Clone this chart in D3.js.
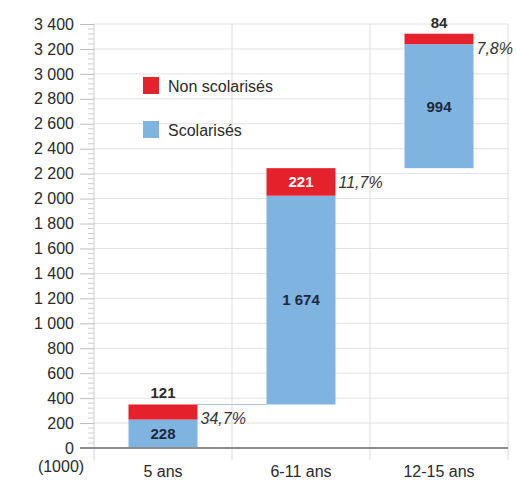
<!DOCTYPE html>
<html>
<head>
<meta charset="utf-8">
<script src="https://cdn.jsdelivr.net/npm/d3@7"></script>
<style>
  html, body { margin: 0; padding: 0; background: #fff; }
  svg { display: block; font-family: "Liberation Sans", Arial, sans-serif; }
</style>
</head>
<body>
<svg id="chart" width="516" height="482"></svg>
<script>
// Age groups and enrolment counts (thousands)
const categories = ["5 ans", "6-11 ans", "12-15 ans"];
const scolarises = [228, 1674, 994];
const nonScolarises = [121, 221, 84];
const shareLabels = ["34,7%", "11,7%", "7,8%"];
const valueLabels = {
  scol: ["228", "1 674", "994"],
  non: ["121", "221", "84"]
};
const yTicks = d3.range(0, 3401, 200);
const legendItems = ["Non scolarisés", "Scolarisés"];

const RED = "#e5222b";
const BLUE = "#7fb3e0";

const svg = d3.select("#chart");
const margin = { left: 94, right: 8, top: 24, bottom: 34 };
const W = +svg.attr("width"), H = +svg.attr("height");

const x = d3.scaleBand().domain(categories).range([margin.left, W - margin.right]).padding(0);
const y = d3.scaleLinear().domain([0, 3400]).range([H - margin.bottom, margin.top]);
const fmt = v => d3.format(",")(v).replace(/,/g, " ");

// Waterfall: each group starts where the previous one ended
let base = 0;
const rows = categories.map((c, i) => {
  const r = {
    cat: c,
    start: base,
    mid: base + scolarises[i],
    end: base + scolarises[i] + nonScolarises[i]
  };
  base = r.end;
  return r;
});

// Horizontal grid
svg.append("g")
  .selectAll("line").data(yTicks.filter(t => t > 0)).join("line")
  .attr("x1", margin.left).attr("x2", W - margin.right)
  .attr("y1", d => y(d)).attr("y2", d => y(d))
  .attr("stroke", "#e2e2e2").attr("stroke-width", 1);

// Vertical grid at category boundaries (extends below axis as ticks)
const bounds = categories.map(c => x(c) + x.bandwidth());
svg.append("g")
  .selectAll("line").data(bounds).join("line")
  .attr("x1", d => d).attr("x2", d => d)
  .attr("y1", y(3400)).attr("y2", y(0) + 12)
  .attr("stroke", "#dcdcdc").attr("stroke-width", 1);

// Left axis with major and minor ticks
const yAxis = d3.axisLeft(y).tickValues(yTicks).tickFormat(fmt).tickSize(14).tickPadding(6);
const gy = svg.append("g").attr("transform", `translate(${margin.left},0)`).call(yAxis);
gy.select(".domain").attr("stroke", "#cfcfcf").attr("d", `M0,${y(3400)}V${y(0) + 12}`);
gy.selectAll(".tick line").attr("stroke", "#bdbdbd");
gy.selectAll(".tick text")
  .attr("fill", "#2a2a2a").attr("font-size", 16)
  .attr("font-family", "Liberation Sans, Arial, sans-serif");

const minor = d3.range(0, 3401, 40).filter(v => v % 200 !== 0);
svg.append("g").selectAll("line").data(minor).join("line")
  .attr("x1", margin.left - 6).attr("x2", margin.left)
  .attr("y1", d => y(d)).attr("y2", d => y(d))
  .attr("stroke", "#cfcfcf");

// Connector from the first group's top to the start of the second
svg.append("g").selectAll("line").data(rows.slice(0, 1)).join("line")
  .attr("x1", (d) => x(d.cat) + x.bandwidth() * 0.75)
  .attr("x2", (d, i) => x(categories[i + 1]) + x.bandwidth() * 0.25)
  .attr("y1", d => y(d.end)).attr("y2", d => y(d.end))
  .attr("stroke", "#a9c6e3").attr("stroke-width", 1);

// Bars
const bw = x.bandwidth() * 0.5;
const bx = d => x(d.cat) + (x.bandwidth() - bw) / 2;
const bars = svg.append("g");
bars.selectAll("rect.scol").data(rows).join("rect")
  .attr("class", "scol")
  .attr("x", bx).attr("width", bw)
  .attr("y", d => y(d.mid)).attr("height", d => y(d.start) - y(d.mid))
  .attr("fill", BLUE);
bars.selectAll("rect.non").data(rows).join("rect")
  .attr("class", "non")
  .attr("x", bx).attr("width", bw)
  .attr("y", d => y(d.end)).attr("height", d => y(d.mid) - y(d.end))
  .attr("fill", RED);

// Bottom axis line
svg.append("line")
  .attr("x1", margin.left - 14).attr("x2", W - margin.right)
  .attr("y1", y(0)).attr("y2", y(0))
  .attr("stroke", "#8c8c8c").attr("stroke-width", 2);

// Category labels
svg.append("g").selectAll("text").data(categories).join("text")
  .attr("x", d => x(d) + x.bandwidth() / 2)
  .attr("y", y(0) + 29)
  .attr("text-anchor", "middle")
  .attr("font-size", 16).attr("fill", "#2a2a2a")
  .text(d => d);

svg.append("text")
  .attr("x", 61).attr("y", y(0) + 24)
  .attr("text-anchor", "middle")
  .attr("font-size", 16).attr("fill", "#2a2a2a")
  .text("(1000)");

// Value labels
const labels = svg.append("g").attr("font-weight", "bold").attr("font-size", 15);
// non-enrolled: above the bar when the segment is small, inside (white) when it is tall enough
rows.forEach((d, i) => {
  const h = y(d.mid) - y(d.end);
  const inside = h > 22;
  labels.append("text")
    .attr("x", x(d.cat) + x.bandwidth() / 2)
    .attr("y", inside ? (y(d.mid) + y(d.end)) / 2 : y(d.end) - 6)
    .attr("dy", inside ? "0.36em" : null)
    .attr("text-anchor", "middle")
    .attr("fill", inside ? "#fff" : "#2b2b2b")
    .text(valueLabels.non[i]);
  labels.append("text")
    .attr("x", x(d.cat) + x.bandwidth() / 2)
    .attr("y", (y(d.start) + y(d.mid)) / 2)
    .attr("dy", "0.36em")
    .attr("text-anchor", "middle")
    .attr("fill", "#1c2a3d")
    .text(valueLabels.scol[i]);
  // share of non-enrolled, to the right of the bar
  svg.append("text")
    .attr("x", bx(d) + bw + 3)
    .attr("y", y(d.end) + 20)
    .attr("font-size", 16).attr("font-style", "italic")
    .attr("fill", "#333")
    .text(shareLabels[i]);
});

// Legend
const lg = svg.append("g").attr("transform", "translate(143,77)");
legendItems.forEach((t, i) => {
  const g = lg.append("g").attr("transform", `translate(0,${i * 44})`);
  g.append("rect").attr("width", 16).attr("height", 17).attr("fill", i === 0 ? RED : BLUE);
  g.append("text").attr("x", 25).attr("y", 9).attr("dy", "0.36em")
    .attr("font-size", 16).attr("fill", "#2a2a2a").text(t);
});
</script>
</body>
</html>
